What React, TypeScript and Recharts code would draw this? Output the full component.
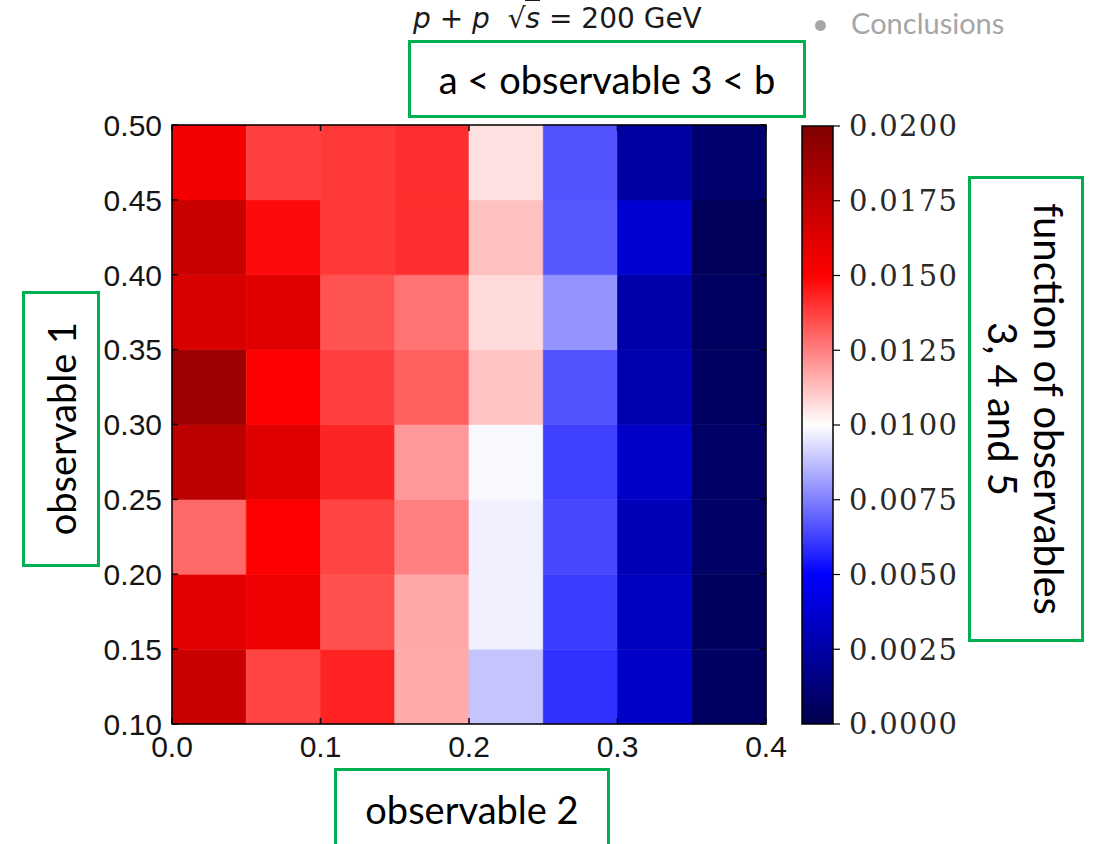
import React from 'react';
import { ComposedChart, XAxis, YAxis, ReferenceArea, Scatter } from 'recharts';

// bin edges of the 2D histogram
const obs2Edges = [0, 0.05, 0.1, 0.15, 0.2, 0.25, 0.3, 0.35, 0.4];
const obs1Edges = [0.1, 0.15, 0.2, 0.25, 0.3, 0.35, 0.4, 0.45, 0.5];

// cell values, one array per observable 1 bin (bottom to top), columns follow obs2Edges
const row010 = [0.01716, 0.01367, 0.01433, 0.01165, 0.00884, 0.00594, 0.00346, 0.0006];
const row015 = [0.0161, 0.01559, 0.01343, 0.0117, 0.0097, 0.00618, 0.00324, 0.0005];
const row020 = [0.01296, 0.015, 0.01367, 0.0125, 0.0097, 0.0064, 0.003, 0.0007];
const row025 = [0.0176, 0.0162, 0.0143, 0.012, 0.00986, 0.00626, 0.00346, 0.0007];
const row030 = [0.0189, 0.015, 0.01375, 0.0131, 0.01116, 0.0066, 0.0028, 0.0006];
const row035 = [0.0165, 0.0162, 0.0134, 0.01275, 0.0107, 0.0079, 0.00257, 0.00054];
const row040 = [0.01716, 0.0148, 0.0139, 0.0141, 0.01124, 0.00673, 0.00369, 0.0004];
const row045 = [0.0154, 0.01375, 0.0139, 0.0141, 0.0106, 0.0066, 0.00234, 0.001];
const rows = [row010, row015, row020, row025, row030, row035, row040, row045];

const xTicks = [0, 0.1, 0.2, 0.3, 0.4];
const yTicks = [0.1, 0.15, 0.2, 0.25, 0.3, 0.35, 0.4, 0.45, 0.5];
const cbarTicks = [0, 0.0025, 0.005, 0.0075, 0.01, 0.0125, 0.015, 0.0175, 0.02];

const VMIN = 0;
const VMAX = 0.02;

// layout of the main axes
const PLOT_LEFT = 172;
const PLOT_RIGHT = 766;
const PLOT_TOP = 125;
const PLOT_BOTTOM = 724;
const CB_LEFT = 802;
const CB_RIGHT = 833;

const GREEN = '#00b050';
const BOX_FONT = 'Lato, "Open Sans", sans-serif';

// matplotlib "seismic"
const seismicStops: [number, number[]][] = [
  [0, [0, 0, 77]],
  [0.25, [0, 0, 255]],
  [0.5, [255, 255, 255]],
  [0.75, [255, 0, 0]],
  [1, [128, 0, 0]],
];

function seismic(v: number) {
  const t = Math.max(0, Math.min(1, (v - VMIN) / (VMAX - VMIN)));
  for (let i = 1; i < seismicStops.length; i++) {
    const [t1, c1] = seismicStops[i];
    const [t0, c0] = seismicStops[i - 1];
    if (t <= t1) {
      const f = (t - t0) / (t1 - t0);
      const c = c0.map((a, k) => Math.round(a + (c1[k] - a) * f));
      return `rgb(${c[0]},${c[1]},${c[2]})`;
    }
  }
  return 'rgb(128,0,0)';
}

const cells = rows.flatMap((row, j) =>
  row.map((value, i) => ({
    x1: obs2Edges[i],
    x2: obs2Edges[i + 1],
    y1: obs1Edges[j],
    y2: obs1Edges[j + 1],
    x: (obs2Edges[i] + obs2Edges[i + 1]) / 2,
    y: (obs1Edges[j] + obs1Edges[j + 1]) / 2,
    value,
  }))
);

const tickFont = { fontFamily: '"Liberation Sans", Arial, sans-serif', fontSize: 30, fill: '#151515' };

function XTick(props: any) {
  const { x, payload } = props;
  return (
    <g>
      <line x1={x} x2={x} y1={PLOT_BOTTOM} y2={PLOT_BOTTOM - 6} stroke="#000" strokeWidth={1.5} />
      <line x1={x} x2={x} y1={PLOT_TOP} y2={PLOT_TOP + 6} stroke="#000" strokeWidth={1.5} />
      <text x={x} y={PLOT_BOTTOM + 33} textAnchor="middle" {...tickFont}>
        {payload.value.toFixed(1)}
      </text>
    </g>
  );
}

function YTick(props: any) {
  const { y, payload } = props;
  return (
    <g>
      <line x1={PLOT_LEFT} x2={PLOT_LEFT + 6} y1={y} y2={y} stroke="#000" strokeWidth={1.5} />
      <line x1={PLOT_RIGHT} x2={PLOT_RIGHT - 6} y1={y} y2={y} stroke="#000" strokeWidth={1.5} />
      <text x={PLOT_LEFT - 10} y={y} dy="0.36em" textAnchor="end" {...tickFont}>
        {payload.value.toFixed(2)}
      </text>
    </g>
  );
}

function CbarTick(props: any) {
  const { y, payload } = props;
  return (
    <g>
      <line x1={CB_RIGHT} x2={CB_RIGHT + 7} y1={y} y2={y} stroke="#000" strokeWidth={1.2} />
      <text
        x={CB_RIGHT + 16}
        y={y}
        dy="0.36em"
        textAnchor="start"
        fontFamily='"DejaVu Serif", serif'
        fontSize={29}
        letterSpacing={1.3}
        fill="#2a2a2a"
      >
        {payload.value.toFixed(4)}
      </text>
    </g>
  );
}

function HeatmapPanel() {
  return (
    <ComposedChart
      width={800}
      height={780}
      data={cells}
      margin={{ top: PLOT_TOP, left: PLOT_LEFT - 60, right: 800 - PLOT_RIGHT, bottom: 780 - PLOT_BOTTOM - 40 }}
    >
      <XAxis
        type="number"
        dataKey="x"
        domain={[0, 0.4]}
        ticks={xTicks}
        tick={<XTick />}
        tickLine={false}
        axisLine={false}
        height={40}
        interval={0}
      />
      <YAxis
        type="number"
        dataKey="y"
        domain={[0.1, 0.5]}
        ticks={yTicks}
        tick={<YTick />}
        tickLine={false}
        axisLine={false}
        width={60}
        interval={0}
      />
      {cells.map((c, k) => (
        <ReferenceArea
          key={k}
          x1={c.x1}
          x2={c.x2}
          y1={c.y1}
          y2={c.y2}
          fill={seismic(c.value)}
          fillOpacity={1}
          stroke={seismic(c.value)}
          strokeWidth={0.6}
        />
      ))}
      <ReferenceArea x1={0} x2={0.4} y1={0.1} y2={0.5} fill="none" stroke="#000" strokeWidth={1.5} />
      <Scatter dataKey="y" fill="none" isAnimationActive={false} shape={() => <g />} />
    </ComposedChart>
  );
}

function ColorbarPanel() {
  const width = 1000;
  const height = 800;
  return (
    <ComposedChart
      width={width}
      height={height}
      data={cbarTicks.map((v) => ({ x: 0.5, v }))}
      margin={{ top: PLOT_TOP + 1, left: CB_LEFT, right: width - CB_RIGHT - 150, bottom: height - PLOT_BOTTOM }}
    >
      <defs>
        <linearGradient id="seismicGrad" x1="0" y1="1" x2="0" y2="0">
          {seismicStops.map(([t, c]) => (
            <stop key={t} offset={t} stopColor={`rgb(${c[0]},${c[1]},${c[2]})`} />
          ))}
        </linearGradient>
      </defs>
      <XAxis type="number" dataKey="x" domain={[0, 1]} hide />
      <YAxis
        type="number"
        dataKey="v"
        orientation="right"
        domain={[VMIN, VMAX]}
        ticks={cbarTicks}
        tick={<CbarTick />}
        tickLine={false}
        axisLine={false}
        width={150}
        interval={0}
      />
      <ReferenceArea x1={0} x2={1} y1={VMIN} y2={VMAX} fill="url(#seismicGrad)" fillOpacity={1} stroke="#000" strokeWidth={1.5} />
      <Scatter dataKey="v" fill="none" isAnimationActive={false} shape={() => <g />} />
    </ComposedChart>
  );
}

const boxBase: React.CSSProperties = {
  position: 'absolute',
  border: `3px solid ${GREEN}`,
  boxSizing: 'border-box',
  display: 'flex',
  alignItems: 'center',
  justifyContent: 'center',
  fontFamily: BOX_FONT,
  color: '#000',
  background: '#fff',
};

const mathItalic: React.CSSProperties = { fontFamily: '"DejaVu Sans", sans-serif', fontStyle: 'italic' };

export default function App() {
  return (
    <div style={{ position: 'absolute', left: 0, top: 0, width: 1096, height: 844, background: '#fff', overflow: 'hidden' }}>
      <div style={{ position: 'absolute', left: 0, top: 0 }}>
        <HeatmapPanel />
      </div>
      <div style={{ position: 'absolute', left: 0, top: 0 }}>
        <ColorbarPanel />
      </div>

      <div
        style={{
          position: 'absolute',
          left: 413,
          top: 2,
          fontFamily: '"DejaVu Sans", sans-serif',
          fontSize: 28,
          color: '#1a1a1a',
          whiteSpace: 'nowrap',
        }}
      >
        <span style={mathItalic}>p</span> + <span style={mathItalic}>p</span>&nbsp;&nbsp;√
        <span style={{ borderTop: '2px solid #1a1a1a', paddingTop: 1 }}>
          <span style={mathItalic}>s</span>
        </span>{' '}
        = 200 GeV
      </div>

      <div
        style={{
          position: 'absolute',
          left: 812,
          top: 5,
          fontFamily: BOX_FONT,
          fontSize: 29,
          color: '#a6a6a6',
          whiteSpace: 'nowrap',
        }}
      >
        •&nbsp;&nbsp;&nbsp;Conclusions
      </div>

      <div style={{ ...boxBase, left: 408, top: 40, width: 398, height: 78, fontSize: 38 }}>a &lt; observable 3 &lt; b</div>

      <div style={{ ...boxBase, left: 22, top: 291, width: 78, height: 276, fontSize: 38 }}>
        <span style={{ writingMode: 'vertical-rl', transform: 'rotate(180deg)', whiteSpace: 'nowrap' }}>observable 1</span>
      </div>

      <div style={{ ...boxBase, left: 968, top: 176, width: 116, height: 466, fontSize: 40 }}>
        <span style={{ writingMode: 'vertical-rl', textAlign: 'center', lineHeight: 1.15, whiteSpace: 'nowrap' }}>
          function of observables
          <br />
          3, 4 and 5
        </span>
      </div>

      <div style={{ ...boxBase, left: 334, top: 768, width: 276, height: 90, fontSize: 38, alignItems: 'flex-start', paddingTop: 15 }}>
        observable 2
      </div>
    </div>
  );
}
